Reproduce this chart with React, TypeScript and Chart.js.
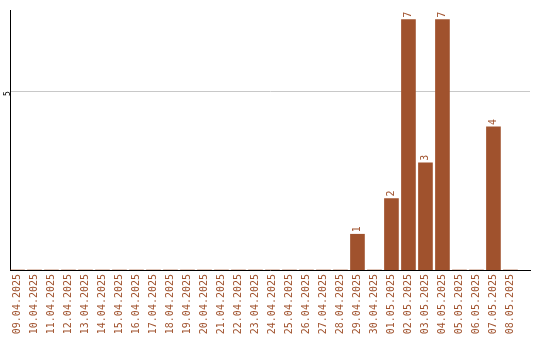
import React, { useEffect, useRef } from "react";
import { Chart, registerables } from "chart.js";

Chart.register(...registerables);

const dates = [
  "09.04.2025", "10.04.2025", "11.04.2025", "12.04.2025", "13.04.2025",
  "14.04.2025", "15.04.2025", "16.04.2025", "17.04.2025", "18.04.2025",
  "19.04.2025", "20.04.2025", "21.04.2025", "22.04.2025", "23.04.2025",
  "24.04.2025", "25.04.2025", "26.04.2025", "27.04.2025", "28.04.2025",
  "29.04.2025", "30.04.2025", "01.05.2025", "02.05.2025", "03.05.2025",
  "04.05.2025", "05.05.2025", "06.05.2025", "07.05.2025", "08.05.2025",
];
const counts = [
  0, 0, 0, 0, 0, 0, 0, 0, 0, 0,
  0, 0, 0, 0, 0, 0, 0, 0, 0, 0,
  1, 0, 2, 7, 3, 7, 0, 0, 4, 0,
];
const yTicks = [5];

const BROWN = "#a0522d";
const FONT = "DejaVu Sans Mono";

const barLabels = {
  id: "barLabels",
  afterDatasetsDraw(chart: any) {
    const ctx = chart.ctx;
    const meta = chart.getDatasetMeta(0);
    ctx.save();
    ctx.fillStyle = BROWN;
    ctx.font = `10px "${FONT}"`;
    ctx.textAlign = "left";
    ctx.textBaseline = "middle";
    meta.data.forEach((bar: any, i: number) => {
      const v = counts[i];
      if (!v) return;
      ctx.save();
      ctx.translate(bar.x, bar.y - 2);
      ctx.rotate(-Math.PI / 2);
      ctx.fillText(String(v), 0, 0);
      ctx.restore();
    });
    ctx.restore();
  },
};

export default function App() {
  const ref = useRef<HTMLCanvasElement>(null);
  useEffect(() => {
    document.body.style.margin = "0";
    const chart = new Chart(ref.current!, {
      type: "bar",
      data: {
        datasets: [
          {
            data: counts.map((v, i) => ({ x: i, y: v })),
            backgroundColor: BROWN,
            borderWidth: 0,
            barThickness: 14,
          },
        ],
      },
      options: {
        animation: false,
        responsive: false,
        layout: { padding: { top: 10, right: 10, left: 0, bottom: 0 } },
        plugins: { legend: { display: false }, tooltip: { enabled: false } },
        scales: {
          x: {
            type: "linear",
            offset: false,
            min: -0.44,
            max: 30.15,
            afterBuildTicks: (scale: any) => {
              scale.ticks = dates.map((_, i) => ({ value: i }));
            },
            afterFit: (scale: any) => {
              scale.height = 70;
              scale.paddingLeft = 0;
              scale.paddingRight = 0;
            },
            grid: { display: false, drawTicks: false },
            border: { display: true, color: "#000", width: 1 },
            ticks: {
              autoSkip: false,
              minRotation: 90,
              maxRotation: 90,
              padding: 4,
              color: BROWN,
              font: { family: FONT, size: 10 },
              callback: (v: any) => dates[v] ?? "",
            },
          },
          y: {
            min: 0,
            max: 7.27,
            afterBuildTicks: (scale: any) => {
              scale.ticks = yTicks.map((v) => ({ value: v }));
            },
            afterFit: (scale: any) => {
              scale.width = 10;
              scale.paddingTop = 0;
              scale.paddingBottom = 0;
            },
            grid: { color: "#c8c8c8", drawTicks: false },
            border: { display: true, color: "#000", width: 1 },
            ticks: {
              minRotation: 90,
              maxRotation: 90,
              padding: 2,
              color: "#000",
              font: { family: FONT, size: 8 },
            },
          },
        },
      },
      plugins: [barLabels],
    });
    return () => chart.destroy();
  }, []);
  return (
    <div style={{ width: 540, height: 340 }}>
      <canvas ref={ref} width={540} height={340} style={{ display: "block" }} />
    </div>
  );
}
